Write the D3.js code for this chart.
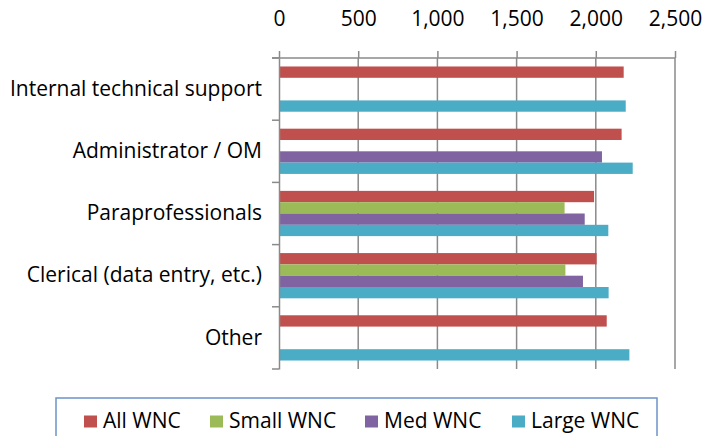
<!DOCTYPE html>
<html>
<head>
<meta charset="utf-8">
<script src="https://cdn.jsdelivr.net/npm/d3@7"></script>
<style>
body{margin:0;background:#fff;}
text{font-family:"Open Sans",sans-serif;fill:#000;}
</style>
</head>
<body>
<div id="chart"><svg width="721" height="436"></svg></div>
<script>
var categories = ["Internal technical support","Administrator / OM","Paraprofessionals","Clerical (data entry, etc.)","Other"];
var series = ["All WNC","Small WNC","Med WNC","Large WNC"];
var allWNC = [2176, 2163, 1989, 2005, 2069];
var smallWNC = [null, null, 1803, 1808, null];
var medWNC = [null, 2039, 1930, 1919, null];
var largeWNC = [2189, 2233, 2079, 2081, 2212];
var ticks = [0, 500, 1000, 1500, 2000, 2500];
var colors = ["#C0504D","#9BBB59","#8064A2","#4BACC6"];

function drawChart(){
var values = [allWNC, smallWNC, medWNC, largeWNC];
var rows = [];
categories.forEach(function(c, i){
 series.forEach(function(s, j){
  if (values[j][i] != null) rows.push({cat: c, ser: s, val: values[j][i], col: colors[j]});
 });
});

var svg = d3.select("#chart").select("svg");
var pL = 279, pR = 675, pT = 58, pB = 369;

var x = d3.scaleLinear().domain([0, 2500]).range([pL, pR]);
var y = d3.scaleBand().domain(categories).range([pT, pB]).padding(0);
var ys = d3.scaleBand().domain(series).range([0, y.bandwidth()]).paddingInner(0).paddingOuter(0.75);

// gridlines
svg.append("g").selectAll("line").data(ticks.slice(1)).enter().append("line")
 .attr("x1", function(d){ return x(d); }).attr("x2", function(d){ return x(d); })
 .attr("y1", pT).attr("y2", pB)
 .attr("stroke", "#8a8a8a").attr("stroke-width", 1.5);

// bars
svg.append("g").selectAll("rect").data(rows).enter().append("rect")
 .attr("x", x(0))
 .attr("y", function(d){ return y(d.cat) + ys(d.ser); })
 .attr("width", function(d){ return x(d.val) - x(0); })
 .attr("height", ys.bandwidth())
 .attr("fill", function(d){ return d.col; });

// top value axis
var xa = svg.append("g").attr("transform", "translate(0," + pT + ")")
 .call(d3.axisTop(x).tickValues(ticks).tickSize(7).tickPadding(25).tickFormat(d3.format(",")));
xa.select(".domain").remove();
xa.selectAll("line").attr("stroke", "#8a8a8a").attr("stroke-width", 1.5);
xa.selectAll("text").style("font-size", "21px").attr("font-family", null);
svg.append("line").attr("x1", pL - 7).attr("x2", pR).attr("y1", pT).attr("y2", pT)
 .attr("stroke", "#8a8a8a").attr("stroke-width", 1.5);

// category axis
var ya = svg.append("g").attr("transform", "translate(" + pL + ",0)")
 .call(d3.axisLeft(y).tickSize(0).tickPadding(17));
ya.select(".domain").attr("stroke", "#8a8a8a").attr("stroke-width", 1.5);
ya.selectAll("text").style("font-size", "21px").attr("font-family", null);
svg.append("g").selectAll("line").data(categories.concat(["end"])).enter().append("line")
 .attr("x1", pL - 7).attr("x2", pL)
 .attr("y1", function(d){ return d == "end" ? pB : y(d); })
 .attr("y2", function(d){ return d == "end" ? pB : y(d); })
 .attr("stroke", "#8a8a8a").attr("stroke-width", 1.5);

// legend
svg.append("rect").attr("x", 56).attr("y", 398).attr("width", 601).attr("height", 60)
 .attr("fill", "none").attr("stroke", "#6b93c8").attr("stroke-width", 1.5);
var legX = [84, 210, 365, 512];
var leg = svg.append("g").selectAll("g").data(series).enter().append("g")
 .attr("transform", function(d, i){ return "translate(" + legX[i] + ",0)"; });
leg.append("rect").attr("x", 0).attr("y", 415.5).attr("width", 13).attr("height", 12)
 .attr("fill", function(d, i){ return colors[i]; });
leg.append("text").attr("x", 19).attr("y", 427.5).style("font-size", "21px").text(function(d){ return d; });
}
drawChart();
</script>
</body>
</html>
